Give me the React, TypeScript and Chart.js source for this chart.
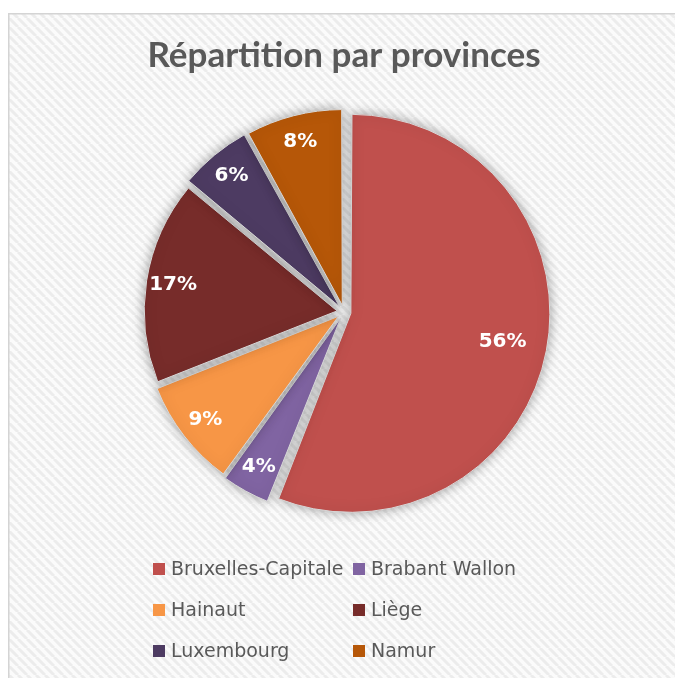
import React, { useEffect, useRef } from "react";
import { Chart, registerables } from "chart.js";

Chart.register(...registerables);

const categories = ["Bruxelles-Capitale", "Brabant Wallon", "Hainaut", "Liège", "Luxembourg", "Namur"];
const shares = [56, 4, 9, 17, 6, 8];
const sliceColors = ["#C0504D", "#8064A2", "#F79646", "#772C2A", "#4D3B62", "#B65708"];
const titleText = "Répartition par provinces";

const backgroundPlugin = {
  id: "bgPattern",
  beforeDraw(chart: any) {
    const ctx = chart.ctx as CanvasRenderingContext2D;
    const { width, height } = chart;
    ctx.save();
    ctx.fillStyle = "#ffffff";
    ctx.fillRect(0, 0, width, height);
    const s = 9;
    const tile = document.createElement("canvas");
    tile.width = s;
    tile.height = s;
    const t = tile.getContext("2d")!;
    t.fillStyle = "#fbfbfb";
    t.fillRect(0, 0, s, s);
    t.strokeStyle = "#ececec";
    t.lineWidth = 3;
    for (const k of [-s, 0, s]) {
      t.beginPath();
      t.moveTo(k, 0);
      t.lineTo(k + s, s);
      t.stroke();
    }
    const pat = ctx.createPattern(tile, "repeat");
    if (pat) {
      ctx.fillStyle = pat;
      ctx.fillRect(9, 14, width - 9, height - 14);
    }
    ctx.fillStyle = "#d4d4d4";
    ctx.fillRect(8, 13, width - 8, 1.5);
    ctx.fillRect(8, 13, 1.5, height - 13);
    ctx.restore();
  },
};

const shadowPlugin = {
  id: "pieShadow",
  beforeDatasetsDraw(chart: any) {
    const ctx = chart.ctx as CanvasRenderingContext2D;
    ctx.save();
    ctx.shadowColor = "rgba(0,0,0,0.35)";
    ctx.shadowBlur = 12;
  },
  afterDatasetsDraw(chart: any) {
    chart.ctx.restore();
  },
};

const labelPlugin = {
  id: "sliceLabels",
  afterDatasetsDraw(chart: any) {
    const ctx = chart.ctx as CanvasRenderingContext2D;
    const meta = chart.getDatasetMeta(0);
    const values = chart.data.datasets[0].data as number[];
    const total = values.reduce((a, b) => a + b, 0);
    ctx.save();
    ctx.fillStyle = "#ffffff";
    ctx.font = "bold 20px 'DejaVu Sans'";
    ctx.textAlign = "center";
    ctx.textBaseline = "middle";
    meta.data.forEach((arc: any, i: number) => {
      const p = arc.getProps(["x", "y", "startAngle", "endAngle", "outerRadius"], true);
      const mid = (p.startAngle + p.endAngle) / 2;
      const off = (arc.options.offset || 0) / 4;
      const factor = 0.86 - 0.15 * (values[i] / total);
      const d = (p.outerRadius + off) * factor + off;
      ctx.fillText(`${values[i]}%`, p.x + Math.cos(mid) * d, p.y + Math.sin(mid) * d);
    });
    ctx.restore();
  },
};

const legendPlugin = {
  id: "gridLegend",
  afterDraw(chart: any) {
    const ctx = chart.ctx as CanvasRenderingContext2D;
    const labels = chart.data.labels as string[];
    const colors = chart.data.datasets[0].backgroundColor as string[];
    const startX = 153;
    const colW = 200;
    const startY = 569;
    const rowH = 41;
    const box = 12;
    ctx.save();
    ctx.font = "19px 'DejaVu Sans'";
    ctx.textAlign = "left";
    ctx.textBaseline = "middle";
    labels.forEach((label, i) => {
      const col = i % 2;
      const row = Math.floor(i / 2);
      const x = startX + col * colW;
      const y = startY + row * rowH;
      ctx.fillStyle = colors[i];
      ctx.fillRect(x, y - box / 2, box, box);
      ctx.fillStyle = "#595959";
      ctx.fillText(label, x + box + 6, y + 1);
    });
    ctx.restore();
  },
};

export default function App() {
  const ref = useRef<HTMLCanvasElement | null>(null);
  useEffect(() => {
    if (!ref.current) return;
    const chart = new Chart(ref.current, {
      type: "pie",
      data: {
        labels: categories,
        datasets: [
          {
            data: shares,
            backgroundColor: sliceColors,
            borderColor: "#d8d8d8",
            borderWidth: 1,
            offset: 28,
            radius: 192,
          } as any,
        ],
      },
      options: {
        responsive: false,
        animation: false,
        layout: { padding: { top: 35, bottom: 131, left: 13, right: 0 } },
        plugins: {
          legend: { display: false },
          tooltip: { enabled: false },
          title: {
            display: true,
            text: titleText,
            color: "#595959",
            font: { family: "Lato", size: 35, weight: "bold", lineHeight: 1.2 },
            padding: { top: 0, bottom: 0 },
          },
        },
      },
      plugins: [backgroundPlugin, shadowPlugin, labelPlugin, legendPlugin],
    });
    return () => chart.destroy();
  }, []);
  return (
    <canvas
      ref={ref}
      width={675}
      height={678}
      style={{ position: "fixed", left: 0, top: 0, width: 675, height: 678, display: "block" }}
    />
  );
}
